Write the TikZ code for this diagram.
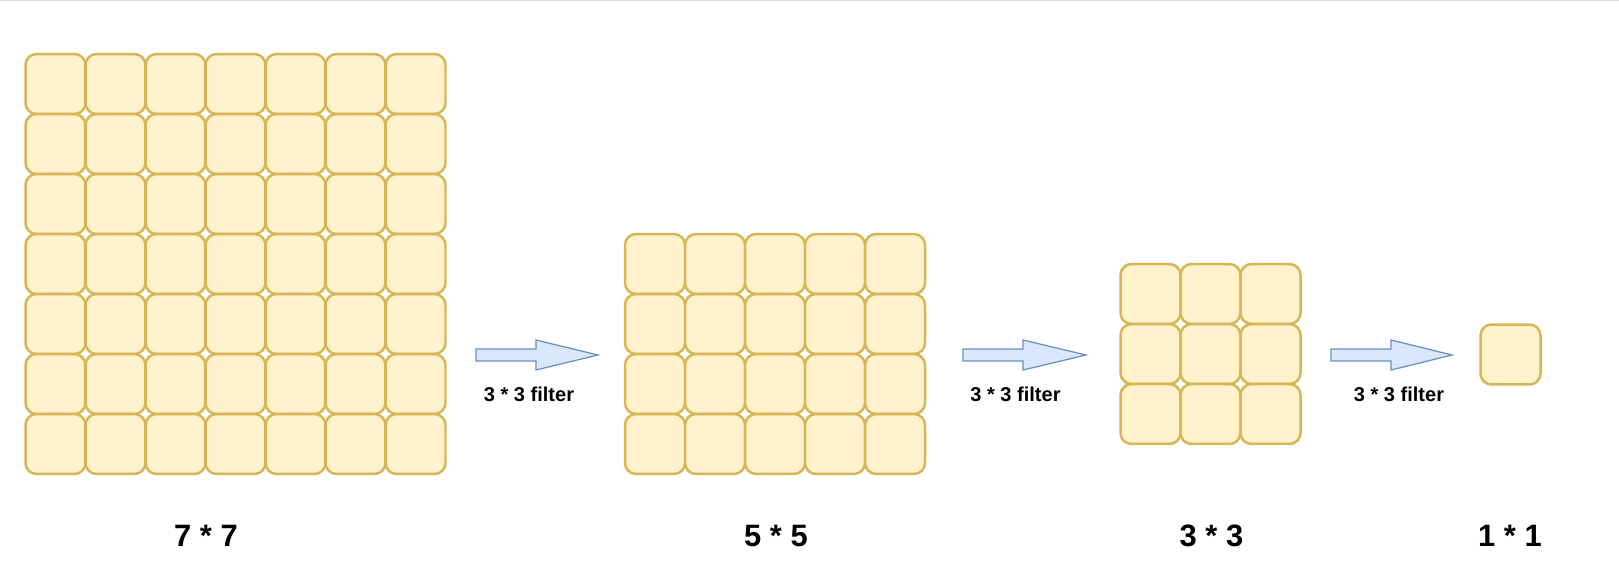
\documentclass[tikz,border=0pt]{standalone}
\usepackage{fontspec}
\setmainfont{Liberation Sans}
\definecolor{cellfill}{HTML}{FFF2CC}
\definecolor{cellstroke}{HTML}{D6B656}
\definecolor{arrfill}{HTML}{DAE8FC}
\definecolor{arrstroke}{HTML}{6C8EBF}
\definecolor{topline}{HTML}{DADADA}
\begin{document}
\begin{tikzpicture}[x=0.02cm,y=-0.02cm,
  cell/.style={shape=rectangle, draw=cellstroke, fill=cellfill, line width=0.05cm,
    rounded corners=0.22cm, minimum size=1.2cm, inner sep=0pt},
  blockarrow/.style={draw=arrstroke, fill=arrfill, line width=0.025cm, line join=miter},
  filterlbl/.style={font=\fontsize{11.4}{13}\selectfont\bfseries, anchor=base, inner sep=0pt},
  sizelbl/.style={font=\fontsize{17.6}{20}\selectfont\bfseries, anchor=base, inner sep=0pt}]
\useasboundingbox (0,0) rectangle (1619,588);
\draw[topline, line width=0.03cm] (0,0.75) -- (1619,0.75);
% 7 x 7 grid
\foreach \i in {0,...,6}{
  \foreach \j in {0,...,6}{
    \node[cell] (a-\i-\j) at (55.5+60*\i, 84+60*\j) {};
  }
}
% 5 columns x 4 rows grid
\foreach \i in {0,...,4}{
  \foreach \j in {0,...,3}{
    \node[cell] (b-\i-\j) at (655+60*\i, 264+60*\j) {};
  }
}
% 3 x 3 grid
\foreach \i in {0,...,2}{
  \foreach \j in {0,...,2}{
    \node[cell] (c-\i-\j) at (1150.5+60*\i, 294+60*\j) {};
  }
}
% 1 x 1
\node[cell] (d) at (1510.5,354.5) {};
% block arrows
\draw[blockarrow] (476,349) -- (536,349) -- (536,340) -- (598,355) -- (536,370) -- (536,361) -- (476,361) -- cycle;
\draw[blockarrow] (963,349) -- (1023,349) -- (1023,340) -- (1086,355) -- (1023,370) -- (1023,361) -- (963,361) -- cycle;
\draw[blockarrow] (1331,349) -- (1391,349) -- (1391,340) -- (1452,355) -- (1391,370) -- (1391,361) -- (1331,361) -- cycle;
% filter labels
\node[filterlbl] (f1) at (529,401) {3 * 3 filter};
\node[filterlbl] (f2) at (1015.5,401) {3 * 3 filter};
\node[filterlbl] (f3) at (1399,401) {3 * 3 filter};
% size labels
\node[sizelbl] (s1) at (206,546) {7 * 7};
\node[sizelbl] (s2) at (776,546) {5 * 5};
\node[sizelbl] (s3) at (1211.5,546) {3 * 3};
\node[sizelbl] (s4) at (1510,546) {1 * 1};
\end{tikzpicture}
\end{document}
